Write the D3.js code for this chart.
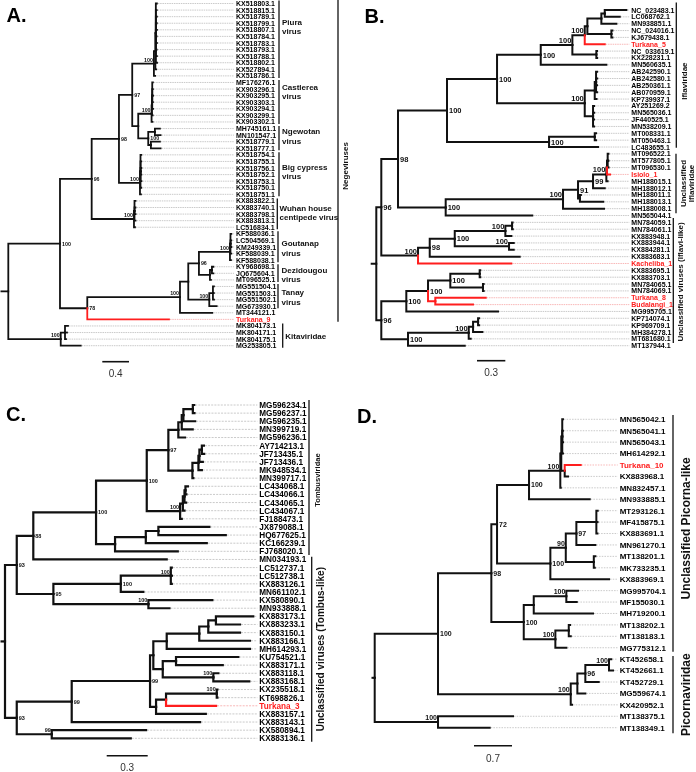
<!DOCTYPE html>
<html>
<head>
<meta charset="utf-8">
<script src="https://cdn.jsdelivr.net/npm/d3@7/dist/d3.min.js"></script>
<style>
html,body{margin:0;padding:0;background:#fff;}
svg{display:block;font-family:"Liberation Sans",Arial,Helvetica,sans-serif;will-change:transform;-webkit-font-smoothing:antialiased;}
</style>
</head>
<body>
<svg id="fig" width="696" height="772"></svg>
<script>
// ======================= DATA =======================
// Panel A (Negeviruses / Kitaviridae)
const A_piura = "(((KX518803.1:0.015,KX518815.1:0.013,KX518789.1:0.016,KX518799.1:0.014,KX518807.1:0.017,KX518784.1:0.012,KX518783.1:0.015,KX518793.1:0.013,KX518788.1:0.016,KX518802.1:0.018):0.007,KX527894.1:0.012):0.022,KX518786.1:0.018)100";
const A_castlerea = "(((MF176276.1:0.010,KX903296.1:0.009,KX903295.1:0.011,KX903303.1:0.010,KX903294.1:0.012):0.005,KX903299.1:0.012):0.005,KX903302.1:0.014)100";
const A_ngewotan = "((MH745161.1:0.075,MN101547.1:0.085):0.100,(KX518779.1:0.135,KX518777.1:0.145):0.040)100";
const A_bigcypress = "((KX518754.1:0.012,KX518755.1:0.011,KX518756.1:0.013,KX518752.1:0.012,KX518753.1:0.014,KX518750.1:0.011):0.008,KX518751.1:0.015)100";
const A_wuhan = "((KX883822.1:0.015,KX883740.1:0.014,KX883798.1:0.016,KX883813.1:0.015):0.008,LC516834.1:0.015)100";
const A_goutanap = "((KF588036.1:0.012,LC504569.1:0.011,KM249339.1:0.013,KF588039.1:0.012):0.008,KF588038.1:0.015)100";
const A_dezidougou = "((KY968698.1:0.022,JQ675604.1:0.022):0.030,MT096525.1:0.015)";
const A_tanay = "((MG551504.1:0.015,MG551503.1:0.014,MG551502.1:0.016):0.055,MG673930.1:0.111)100";
const A_kita = "((MK804173.1:0.045,MK804171.1:0.030,MK804175.1:0.015):0.064,MG253805.1:0.300)100";
const newickA = `(((((${A_piura}:0.325,(${A_castlerea}:0.200,${A_ngewotan}:0.150):0.090)97:0.199,${A_bigcypress}:0.315)98:0.409,${A_wuhan}:0.634)96:0.475,((((${A_goutanap}:0.465,${A_dezidougou}:0.165)96:0.160,${A_tanay}:0.315):0.124,MT344121.1:0.484)100:1.390,Turkana_9:1.225)78:0.409)100:0.775,${A_kita}:0.786);`;

// Panel B (Iflaviridae)
const B_N584 = "((((NC_023483.1:0.229,LC068762.1:0.159):0.036,MN938851.1:0.159):0.148,(NC_024016.1:0.011,KJ679438.1:0.011):0.254):0.028,Turkana_5:0.212)100";
const B_N572 = `(${B_N584}:0.131,(NC_033619.1:0.007,KX228231.1:0.008):0.254)100`;
const B_N540 = `(${B_N572}:0.335,MN560635.1:0.695)100`;
const B_N585 = "(((AB242590.1:0.011,AB242580.1:0.012,AB250361.1:0.010,AB070959.1:0.011):0.014,KP739937.1:0.019):0.106,(AY251269.2:0.011,MN565036.1:0.012,JF440525.1:0.010,MN538209.1:0.011):0.088)100";
const B_N497 = `(${B_N540}:0.463,${B_N585}:0.929)100`;
const B_N549 = "((MT008331.1:0.014,MT050463.1:0.014):0.484,LC483655.1:0.519)100";
const B_N447 = `(${B_N497}:0.530,${B_N549}:1.081)100`;
const B_isiolo = "(((MT096522.1:0.008,MT577805.1:0.008,MT096530.1:0.009):0.007,Isiolo_1:0.032):0.007,MH188015.1:0.013)100";
const B_U100 = `((((${B_isiolo}:0.141,MH188012.1:0.124)99:0.159,(MH188011.1:0.010,MH188013.1:0.247):0.020)91:0.159,MH188008.1:0.434)100:1.243,MN565044.1:0.917)100`;
const B_N98 = `(${B_N447}:0.519,${B_U100}:0.505)98`;
const B_K100 = "(((((MN784059.1:0.006,MN784061.1:0.008):0.071,KX883948.1:0.064)100:0.536,(KX883944.1:0.050,KX884281.1:0.050)100:0.575)100:0.265,KX883683.1:0.953)98:0.124,Kacheliba_1:0.988)100";
const B_T100 = "((((KX883695.1:0.006,KX883703.1:0.006):0.311,(MN784065.1:0.007,MN784069.1:0.007):0.346)100:0.236,(Turkana_8:0.534,Budalangi_1:0.399):0.077)100:0.230,MG995705.1:0.971)100";
const B_P100 = "((((KP714074.1:0.011,KP969709.1:0.011):0.053,MH384278.1:0.099):0.046,MT681680.1:0.021)100:0.643,MT137944.1:0.601)100";
const newickB = `((${B_N98}:0.177,${B_K100}:0.389)96:0.053,(${B_T100}:0.265,${B_P100}:0.283)96:0.053);`;

// Panel C (Tombusviridae)
const C_S = "((((MG596234.1:0.010,MG596237.1:0.012):0.069,MG596235.1:0.086):0.012,MN399719.1:0.080):0.025,MG596236.1:0.049)";
const C_B = "((((AY714213.1:0.015,JF713435.1:0.017):0.018,JF713436.1:0.025):0.007,MK948534.1:0.025):0.044,MN399717.1:0.007)";
const C_L = "((((LC434068.1:0.018,LC434066.1:0.007):0.007,LC434065.1:0.012):0.012,LC434067.1:0.012):0.020,FJ188473.1:0.012)100";
const C_N115 = "(((JX879088.1:0.373,HQ677625.1:0.493):0.092,KC166239.1:0.446):0.225,FJ768020.1:0.459)";
const C_N88 = `((((${C_S}:0.073,${C_B}:0.176)97:0.158,${C_L}:0.244)100:0.371,${C_N115}:0.139)100:0.459,MN034193.1:0.976)88`;
const C_N95 = "(((LC512737.1:0.007,LC512738.1:0.008,KX883126.1:0.007)100:0.366,MN661102.1:0.165)100:0.493,(KX580890.1:0.468,MN933888.1:0.154)100:0.695)95";
const C_c = "((((KX883173.1:0.273,KX883233.1:0.176):0.056,KX883150.1:0.232):0.066,KX883166.1:0.371):0.238,MH614293.1:0.609)";
const C_f = "((KU754521.1:0.456,KX883171.1:0.342):0.097,(KX883118.1:0.037,KX883168.1:0.263)100:0.370)";
const C_i = "(((KX235518.1:0.005,KT698826.1:0.005)100:0.371,Turkana_3:0.366):0.073,KX883157.1:0.364)";
const C_N93b = `((((${C_c}:0.098,${C_f}:0.069):0.024,${C_i}:0.044)99:0.573,KX883143.1:0.939)99:0.402,(KX580894.1:0.690,KX883136.1:0.578)99:0.256)93`;
const newickC = `((${C_N88}:0.121,${C_N95}:0.268)93:0.086,${C_N93b}:0.086);`;

// Panel D (Picornaviridae)
const D_Q0 = "((((MN565042.1:0.013,MN565041.1:0.012,MN565043.1:0.014,MH614292.1:0.013):0.018,(Turkana_10:0.295,KX883968.1:0.061):0.063):0.018,MN832457.1:0.009)100";
const D_N100q = `(${D_Q0}:0.576,MN933885.1:1.118)100`;
const D_N100r = "((((MT293126.1:0.025,MF415875.1:0.022,KX883691.1:0.020):0.368,MN961270.1:0.350)97:0.195,(MT138201.1:0.029,MK733235.1:0.018):0.516)90:0.284,KX883969.1:1.081)100";
const D_N100s = "(((MG995704.1:0.215,MF155030.1:0.192)100:0.600,MH719200.1:1.092):0.184,((MT138202.1:0.024,MT138183.1:0.037):0.247,MG775312.1:0.203)100:0.582)100";
const D_pic = "((((KT452658.1:0.042,KT452661.1:0.074)100:0.436,KT452729.1:0.247)96:0.147,MG559674.1:0.147):0.122,KX420952.1:0.024)100";
const newickD = `((((${D_N100q}:0.589,${D_N100r}:0.982)72:0.105,${D_N100s}:0.597)98:0.982,${D_pic}:2.444)100:1.166,(MT138375.1:1.381,MT138349.1:0.952)100:1.166);`;

// Highlighted (novel) sequences
const highlighted = ["Turkana_9","Turkana_5","Isiolo_1","Kacheliba_1","Turkana_8","Budalangi_1","Turkana_3","Turkana_10"];

// Clade annotations
const cladesA = [
  {name:["Piura","virus"], from:"KX518803.1", to:"KX518786.1"},
  {name:["Castlerea","virus"], from:"MF176276.1", to:"KX903302.1"},
  {name:["Ngewotan","virus"], from:"MH745161.1", to:"KX518777.1"},
  {name:["Big cypress","virus"], from:"KX518754.1", to:"KX518751.1"},
  {name:["Wuhan house","centipede virus"], from:"KX883822.1", to:"LC516834.1"},
  {name:["Goutanap","virus"], from:"KF588036.1", to:"KF588038.1"},
  {name:["Dezidougou","virus"], from:"KY968698.1", to:"MT096525.1"},
  {name:["Tanay","virus"], from:"MG551504.1", to:"MG673930.1"},
  {name:["Kitaviridae"], from:"MK804173.1", to:"MG253805.1"},
  {name:["Negeviruses"], from:"KX518803.1", to:"Turkana_9"}
];
const cladesB = [
  {name:["Iflaviridae"], from:"NC_023483.1", to:"LC483655.1"},
  {name:["Unclassified","Iflaviridae"], from:"MT096522.1", to:"MN565044.1"},
  {name:["Unclassified viruses (Iflavi-like)"], from:"MN784059.1", to:"MT137944.1"}
];
const cladesC = [
  {name:["Tombusviridae"], from:"MG596234.1", to:"FJ768020.1"},
  {name:["Unclassified viruses (Tombus-like)"], from:"MN034193.1", to:"KX883136.1"}
];
const cladesD = [
  {name:["Unclassified Picorna-like"], from:"MN565042.1", to:"MG775312.1"},
  {name:["Picornaviridae"], from:"KT452658.1", to:"MT138349.1"}
];
const scaleBarValues = [0.4, 0.3, 0.3, 0.7];
const panelLetters = ["A.", "B.", "C.", "D."];

// ======================= LAYOUT =======================
const RED = "#ff1e1e";
const INK = "#111";
const layouts = [
  { rootX:8.3, stubX:0.5, k:66.7, y0:3.5, y1:345.7, labelX:236, leafFs:7, supFs:5.3, lw:1.8,
    dash:"1.5,0.8", sbX:102.3, sbY:361.7, sbTextY:376.5, letterX:6.5, letterY:21.7,
    clade:[
      {x:279, lx:282, dy:-12.7, pt:3, pb:2, fs:8, lh:9.3},
      {x:279, lx:282, dy:-10, pt:2.5, pb:2, fs:8, lh:9.3},
      {x:279, lx:282, dy:-2, pt:2.5, pb:2, fs:8, lh:9.3},
      {x:279, lx:282, dy:-2.5, pt:2.5, pb:2, fs:8, lh:9.3},
      {x:277.3, lx:279.5, dy:-1, pt:2.5, pb:2, fs:8, lh:9.3},
      {x:278, lx:281.5, dy:1.5, pt:2.5, pb:2, fs:8, lh:9.3},
      {x:278, lx:281.5, dy:1.4, pt:2.5, pb:2, fs:8, lh:9.3},
      {x:278, lx:281.5, dy:1, pt:2.5, pb:2, fs:8, lh:9.3},
      {x:282.7, lx:285.3, dy:1, pt:2.5, pb:2, fs:8, lh:9.3},
      {x:338, lx:345, dy:5, pt:3.5, pb:2.4, fs:8, lh:9, rot:true}
    ]},
  { rootX:376.3, stubX:370.7, k:94.4, y0:10, y1:345.7, labelX:631.3, leafFs:7, supFs:7.5, lw:2,
    dash:"1.5,0.8", sbX:477, sbY:360.7, sbTextY:376, letterX:364.5, letterY:22.7,
    clade:[
      {x:676.3, lx:684.5, dy:6, pt:7.5, pb:0.7, fs:8, lh:8.5, rot:true},
      {x:676, lx:687.3, dy:0, pt:0.2, pb:-2.2, fs:8, lh:8, rot:true},
      {x:673.3, lx:680, dy:1.5, pt:4.4, pb:-2.7, fs:8, lh:8.5, rot:true}
    ]},
  { rootX:5, stubX:0.5, k:136.7, y0:405, y1:738.3, labelX:259.3, leafFs:8.2, supFs:5.5, lw:2.2,
    dash:"2,1.2", sbX:106.7, sbY:755.7, sbTextY:770.5, letterX:6, letterY:421,
    clade:[
      {x:309, lx:317, dy:2.5, pt:5, pb:3.7, fs:7.6, lh:9, rot:true},
      {x:311.7, lx:320.5, dy:0, pt:2.8, pb:3.4, fs:10, lh:9, rot:true}
    ]},
  { rootX:374.7, stubX:371.5, k:54.3, y0:419.3, y1:727.7, labelX:619.7, leafFs:8, supFs:7, lw:2,
    dash:"1.5,1.2", sbX:474, sbY:745.7, sbTextY:762, letterX:357, letterY:423,
    clade:[
      {x:673, lx:685.5, dy:-5, pt:4.3, pb:4, fs:12, lh:13, rot:true},
      {x:673, lx:685.5, dy:0, pt:3.1, pb:5.6, fs:12, lh:13, rot:true}
    ]}
];
const newicks = [newickA, newickB, newickC, newickD];
const cladeSets = [cladesA, cladesB, cladesC, cladesD];

// ======================= PARSER =======================
function parseNewick(str){
  let i = 0;
  function node(){
    const n = {};
    if (str[i] === "("){
      i++;
      n.children = [node()];
      while (str[i] === ","){ i++; n.children.push(node()); }
      i++; // ')'
    }
    let name = "";
    while (i < str.length && !",():;".includes(str[i])) name += str[i++];
    n.name = name.trim();
    n.length = 0;
    if (str[i] === ":"){
      i++;
      let l = "";
      while (i < str.length && !",();".includes(str[i])) l += str[i++];
      n.length = +l;
    }
    return n;
  }
  return node();
}

// ======================= DRAW =======================
const svg = d3.select("#fig");
svg.append("rect").attr("width",696).attr("height",772).attr("fill","#fff");

function drawPanel(p){
  const L = layouts[p];
  const g = svg.append("g");
  const root = d3.hierarchy(parseNewick(newicks[p]));
  root.eachBefore(n => { n.dist = n.parent ? n.parent.dist + n.data.length : 0; });
  const leaves = root.leaves();
  const x = d3.scaleLinear().domain([0, 1]).range([L.rootX, L.rootX + L.k]);
  const y = d3.scaleLinear().domain([0, leaves.length - 1]).range([L.y0, L.y1]);
  const leafY = {};
  leaves.forEach((l, i) => { l.py = y(i); leafY[l.data.name] = l.py; });
  root.eachAfter(n => {
    if (n.children) n.py = (n.children[0].py + n.children[n.children.length - 1].py) / 2;
    n.px = x(n.dist);
    n.red = n.children ? n.children.every(c => c.red) : highlighted.includes(n.data.name);
  });

  // leader lines
  g.selectAll("line.lead").data(leaves).join("line")
    .attr("x1", d => d.px + 1).attr("x2", L.labelX - 2)
    .attr("y1", d => d.py).attr("y2", d => d.py)
    .attr("stroke", d => d.red ? "#f6a6a6" : "#bcbcbc")
    .attr("stroke-width", 0.8).attr("stroke-dasharray", L.dash);

  // branches
  const links = root.descendants().filter(n => n.parent).sort((a, b) => a.red - b.red);
  g.selectAll("path.br").data(links).join("path")
    .attr("d", d => `M${d.parent.px},${d.parent.py}V${d.py}H${d.px}`)
    .attr("fill", "none")
    .attr("stroke", d => d.red ? RED : INK)
    .attr("stroke-width", L.lw)
    .attr("stroke-linecap", "square");
  // root stub
  g.append("line").attr("x1", L.stubX).attr("x2", root.px)
    .attr("y1", root.py).attr("y2", root.py)
    .attr("stroke", INK).attr("stroke-width", L.lw);

  // support values
  const sup = root.descendants().filter(n => n.children && n.data.name !== "");
  sup.forEach(n => {
    const w = n.data.name.length * L.supFs * 0.56;
    const h = L.supFs / 2 + 0.5;
    let left = n.children.every(c => !c.children);
    if (!left){
      n.descendants().forEach(d => {
        if (d === n || !d.children) return;
        if (d.px > n.px && d.px < n.px + w + 3){
          const ys = d.children.map(c => c.py);
          const y0 = Math.min(...ys), y1 = Math.max(...ys);
          if (y1 > n.py - h && y0 < n.py + h) left = true;
        }
      });
    }
    const t = g.append("text")
      .attr("font-size", L.supFs).attr("font-weight", "bold").attr("fill", "#111")
      .text(n.data.name);
    if (left){
      t.attr("x", n.px - 1).attr("y", n.py - L.lw/2 - 1).attr("text-anchor", "end");
    } else {
      t.attr("x", n.px + 2).attr("y", n.py + L.supFs * 0.36).attr("text-anchor", "start");
    }
  });

  // leaf labels
  g.selectAll("text.leaf").data(leaves).join("text")
    .attr("x", L.labelX).attr("y", d => d.py + L.leafFs * 0.36)
    .attr("font-size", L.leafFs).attr("font-weight", "bold")
    .attr("fill", d => d.red ? RED : "#000")
    .text(d => d.data.name);

  // clades
  cladeSets[p].forEach((c, i) => {
    const C = L.clade[i];
    const ya = leafY[c.from] - C.pt, yb = leafY[c.to] + C.pb;
    g.append("line").attr("x1", C.x).attr("x2", C.x).attr("y1", ya).attr("y2", yb)
      .attr("stroke", "#111").attr("stroke-width", 1.3);
    const cy = (ya + yb) / 2 + C.dy;
    const n = c.name.length;
    if (C.rot){
      const t = g.append("text").attr("transform", `translate(${C.lx},${cy}) rotate(-90)`)
        .attr("text-anchor", "middle").attr("font-size", C.fs).attr("font-weight", "bold").attr("fill", "#111");
      c.name.forEach((s, j) => t.append("tspan").attr("x", 0)
        .attr("y", (j - (n - 1) / 2) * C.lh + C.fs * 0.36).text(s));
    } else {
      const t = g.append("text").attr("font-size", C.fs).attr("font-weight", "bold").attr("fill", "#111");
      c.name.forEach((s, j) => t.append("tspan").attr("x", C.lx)
        .attr("y", cy + (j - (n - 1) / 2) * C.lh + C.fs * 0.36).text(s));
    }
  });

  // scale bar
  const v = scaleBarValues[p];
  const len = x(v) - x(0);
  g.append("line").attr("x1", L.sbX).attr("x2", L.sbX + len).attr("y1", L.sbY).attr("y2", L.sbY)
    .attr("stroke", INK).attr("stroke-width", 1.6);
  g.append("text").attr("x", L.sbX + len / 2).attr("y", L.sbTextY).attr("text-anchor", "middle")
    .attr("font-size", 10).attr("fill", "#333").text(String(v));

  // panel letter
  g.append("text").attr("x", L.letterX).attr("y", L.letterY)
    .attr("font-size", 20).attr("font-weight", "bold").attr("fill", "#000").text(panelLetters[p]);
}

[0, 1, 2, 3].forEach(drawPanel);
</script>
</body>
</html>
